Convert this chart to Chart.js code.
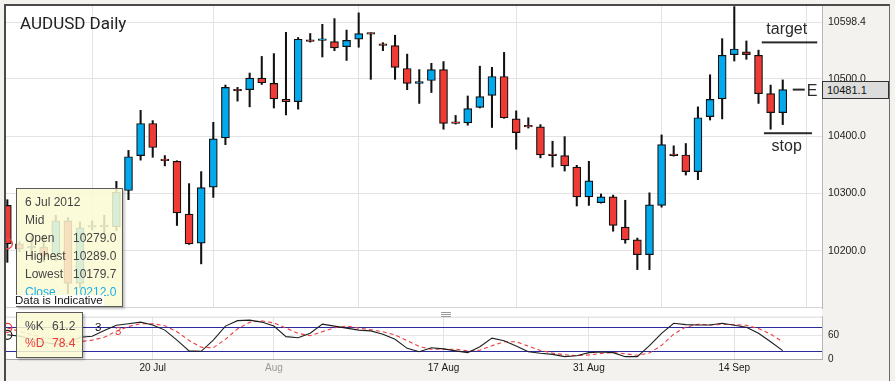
<!DOCTYPE html>
<html><head><meta charset="utf-8">
<script src="https://cdn.jsdelivr.net/npm/chart.js@4.4.1/dist/chart.umd.min.js"></script>
<style>
html,body{margin:0;padding:0;}
body{width:895px;height:381px;overflow:hidden;background:#f4f2ee;font-family:"Liberation Sans",Arial,sans-serif;}
#wrap{position:relative;width:895px;height:381px;}
canvas{position:absolute;left:0;}
#gap{position:absolute;left:6px;top:308px;width:816px;height:9px;background:#fff;}
#frame{position:absolute;left:4px;top:4px;width:886px;height:400px;border-left:2px solid #4a4a4a;border-top:2px solid #4a4a4a;border-right:1px solid #6a6a6a;box-sizing:border-box;pointer-events:none;}
#title{position:absolute;left:20px;top:12.5px;font-family:Roboto,"Liberation Sans",sans-serif;font-size:17px;color:#222;line-height:20px;white-space:nowrap;}
.box{position:absolute;background:rgba(250,250,212,0.86);border:1px solid #5a5a5a;box-shadow:2px 2px 2px rgba(0,0,0,0.22);box-sizing:border-box;font-size:12px;color:#444;}
#tip{left:16px;top:188px;width:107px;height:119px;padding-top:4px;}
#tip .row{height:18px;line-height:18px;position:relative;padding-left:8px;white-space:nowrap;}
#tip .val{position:absolute;left:56px;top:0;}
#tip .cl{color:#1aaeea;}
#indic{position:absolute;left:13px;top:295px;width:91px;height:11px;background:#fff;font-size:11.5px;line-height:11px;color:#111;padding-left:2px;box-sizing:border-box;white-space:nowrap;}
#stip{left:16px;top:312px;width:67px;height:46px;padding-top:5px;}
#stip .row{height:17px;line-height:17px;position:relative;padding-left:8px;white-space:nowrap;}
#stip .val{position:absolute;left:35px;top:0;}
#stip .d{color:#e83a3a;}
#pbox{position:absolute;left:822px;top:81px;width:67px;height:18px;background:#dcdcdc;border:1px solid #333;box-sizing:border-box;font-size:11px;line-height:16px;padding-left:4px;color:#111;}
.hl{position:absolute;left:441px;width:10px;height:1px;background:#9a9a9a;}
.p3{position:absolute;font-size:11.5px;line-height:12px;}
</style></head>
<body>
<div id="wrap">
  <div id="gap"></div>
  <canvas id="main" width="895" height="310" style="top:0;width:895px;height:310px"></canvas>
  <canvas id="stoch" width="895" height="71" style="top:310px;width:895px;height:71px"></canvas>
  <div class="hl" style="top:312px"></div>
  <div class="hl" style="top:314px"></div>
  <div class="hl" style="top:316px"></div>
  <div id="title">AUDUSD Daily</div>
  <div class="p3" style="left:95px;top:321px;color:#111">3</div>
  <div class="p3" style="left:115px;top:325px;color:#e83a3a">3</div>
  <div id="tip" class="box"></div>
  <div id="indic">Data is Indicative</div>
  <div id="stip" class="box"></div>
  <div id="pbox"></div>
  <div id="frame"></div>
</div>
<script>
// ---------- data ----------
const dates = ['2012-07-06','2012-07-08','2012-07-09','2012-07-10','2012-07-11','2012-07-12','2012-07-13','2012-07-15','2012-07-16','2012-07-17','2012-07-18','2012-07-19','2012-07-20','2012-07-22','2012-07-23','2012-07-24','2012-07-25','2012-07-26','2012-07-27','2012-07-29','2012-07-30','2012-07-31','2012-08-01','2012-08-02','2012-08-03','2012-08-05','2012-08-06','2012-08-07','2012-08-08','2012-08-09','2012-08-10','2012-08-12','2012-08-13','2012-08-14','2012-08-15','2012-08-16','2012-08-17','2012-08-19','2012-08-20','2012-08-21','2012-08-22','2012-08-23','2012-08-24','2012-08-26','2012-08-27','2012-08-28','2012-08-29','2012-08-30','2012-08-31','2012-09-02','2012-09-03','2012-09-04','2012-09-05','2012-09-06','2012-09-07','2012-09-09','2012-09-10','2012-09-11','2012-09-12','2012-09-13','2012-09-14','2012-09-16','2012-09-17','2012-09-18','2012-09-19'];
const open = [10279,10212,10205,10206,10192,10252,10143,10241,10244,10242,
 10305,10366,10422,10358,10356,10264,10213,10311,10397,10480,
 10481,10501,10492,10464,10460,10567,10567,10565,10556,10569,
 10579,10560,10558,10518,10492,10497,10516,10423,10423,10450,
 10471,10504,10430,10417,10416,10367,10366,10346,10294,10284,
 10294,10241,10219,10193,10279,10367,10367,10338,10434,10465,
 10542,10547,10541,10474,10441];
const high = [10289,10216,10225,10226,10262,10258,10250,10252,10262,10321,
 10375,10445,10427,10366,10357,10317,10338,10424,10489,10485,
 10510,10539,10544,10581,10572,10579,10595,10605,10585,10615,
 10580,10563,10576,10543,10516,10527,10530,10436,10470,10522,
 10520,10546,10444,10432,10420,10391,10399,10349,10356,10299,
 10297,10288,10222,10301,10402,10383,10387,10451,10507,10570,
 10626,10566,10550,10489,10498];
const low = [10179.7,10198,10186,10181,10182,10125,10135,10236,10230,10235,
 10289,10358,10363,10348,10244,10211,10177,10293,10385,10461,
 10451,10490,10449,10437,10447,10564,10538,10549,10532,10555,
 10499,10549,10499,10481,10457,10476,10412,10421,10419,10449,
 10415,10431,10377,10414,10362,10346,10339,10278,10279,10283,
 10234,10213,10167,10167,10276,10365,10332,10324,10428,10430,
 10531,10534,10457,10412,10420];
const close = [10212,10203,10207,10190,10252,10143,10240,10244,10242,10302,
 10364,10422,10380,10357,10266,10212,10310,10395,10485,10479,
 10501,10493,10465,10460,10569,10565,10568,10554,10567,10579,
 10578,10558,10520,10492,10495,10516,10422,10422,10448,10469,
 10504,10432,10406,10416,10367,10366,10348,10294,10322,10294,
 10244,10219,10193,10280,10385,10366,10338,10432,10464,10541,
 10552,10542,10474,10441,10481.1];
const stochK = [61.2,58,50,42,38,40,55,57.5,72,85,
 89,93,86,73,48,21,20,48,83,96.6,
 98,93,83,56.6,54,65,88,83,78,73,
 71,62.4,50,27.4,19,29,26,21,16.6,31.6,
 53,46.5,33,19,15,12.4,6.6,9,16.6,18.3,
 16.6,6.6,6.6,34,65,90,86.6,85.8,85.8,90,
 85,80,65,44,21.6];
const stochD = [78.4,70,62,54,48,44,44,48,55,70,
 82,89,89,84,69,47,30,29,50,76,
 92.5,96,91,78,65,59,69,79,83,78,
 74,69,61,46.6,32,25,25,25.3,21,23,
 34,44,44,33,22,15.5,11.3,9.3,10.7,14.6,
 17.2,13.8,10,15.7,35,63,80.5,87.4,86,87,
 87,85,76.7,63,43.5];
const priceTicks = [10200,10300,10400,10500,10598.4];
const stochTicks = [0,60];
const stochBands = [20,80];
const xTickDates = ['2012-07-20','2012-08-01','2012-08-17','2012-08-31','2012-09-14'];
const xTickLabels = ['20 Jul','Aug','17 Aug','31 Aug','14 Sep'];
const levels = [{name:'target',price:10563.5},{name:'stop',price:10405},{name:'E',price:10481.1}];
const hoverIndex = 0;

// ---------- setup ----------
Chart.defaults.font.family = "'Liberation Sans', Arial, sans-serif";
const UP = '#02a9ec', DOWN = '#ee3b36';
const X_MIN = -0.11, X_MAX = 67.24;
const xTickIdx = xTickDates.map(d => dates.indexOf(d));
const last = dates.length - 1;

const whiteArea = {id:'whiteArea', beforeDraw(c){
  const {ctx, chartArea:a} = c;
  ctx.save(); ctx.fillStyle = '#fff';
  ctx.fillRect(a.left, a.top, a.right - a.left, a.bottom - a.top);
  ctx.restore();
}};

const mainDeco = {id:'mainDeco', afterDatasetsDraw(c){
  const {ctx, chartArea:a, scales:{x, y}} = c;
  ctx.save();
  ctx.fillStyle = '#d6d6d6';
  ctx.fillRect(a.left, a.bottom - 1, a.right - a.left, 1);
  ctx.save();
  ctx.beginPath(); ctx.rect(a.left, a.top, a.right - a.left, a.bottom - a.top); ctx.clip();
  ctx.beginPath();
  ctx.arc(x.getPixelForValue(hoverIndex), y.getPixelForValue(close[hoverIndex]), 5, 0, Math.PI * 2);
  ctx.strokeStyle = '#e84a4a'; ctx.lineWidth = 1.4; ctx.stroke();
  ctx.restore();
  const xl = x.getPixelForValue(last);
  ctx.fillStyle = '#2a2a2a';
  ctx.font = "16px 'Liberation Sans', Arial, sans-serif";
  ctx.textBaseline = 'alphabetic';
  levels.forEach(l => {
    const py = y.getPixelForValue(l.price);
    if (l.name === 'target') {
      ctx.fillRect(xl - 21, py - 1, 55.5, 2);
      ctx.textAlign = 'center'; ctx.fillText(l.name, xl + 4, py - 8.3);
    } else if (l.name === 'stop') {
      ctx.fillRect(xl - 18.8, py - 1, 48, 2);
      ctx.textAlign = 'center'; ctx.fillText(l.name, xl + 4, py + 17.5);
    } else {
      ctx.fillRect(xl + 10, py - 1, 12, 2);
      ctx.textAlign = 'left'; ctx.fillText(l.name, xl + 24, py + 6.8);
    }
  });
  ctx.restore();
}};

const stochDeco = {id:'stochDeco', beforeDatasetsDraw(c){
  const {ctx, chartArea:a, scales:{y}} = c;
  ctx.save();
  ctx.fillStyle = '#d9d9d9';
  ctx.fillRect(a.left, a.top, a.right - a.left, 1);
  ctx.strokeStyle = '#2b2b9e'; ctx.lineWidth = 1;
  stochBands.forEach(v => {
    const py = Math.round(y.getPixelForValue(v)) + 0.5;
    ctx.beginPath(); ctx.moveTo(a.left, py); ctx.lineTo(a.right, py); ctx.stroke();
  });
  ctx.restore();
}};

const setTicks = arr => s => { s.ticks = arr.map(v => ({value: v})); };
const noPad = s => { s.paddingTop = 0; s.paddingBottom = 0; s.paddingLeft = 0; s.paddingRight = 0; };

const mainChart = new Chart(document.getElementById('main'), {
  type: 'bar',
  data: { datasets: [
    { label: 'body',
      data: dates.map((d, i) => ({x: i, y: [Math.min(open[i], close[i]), Math.max(open[i], close[i])]})),
      backgroundColor: dates.map((d, i) => close[i] >= open[i] ? UP : DOWN),
      borderColor: '#111', borderWidth: 1.2, borderSkipped: false,
      barThickness: 8, minBarLength: 1.6, grouped: false, order: 0, clip: 0 },
    { label: 'wick',
      data: dates.map((d, i) => ({x: i, y: [low[i], high[i]]})),
      backgroundColor: '#111', borderWidth: 0,
      barThickness: 1.4, grouped: false, order: 1, clip: 0 }
  ]},
  options: {
    responsive: false, animation: false, devicePixelRatio: 1, events: [],
    layout: {padding: {left: 6, top: 6, right: 0, bottom: 2}},
    plugins: {legend: {display: false}, tooltip: {enabled: false}},
    scales: {
      x: { type: 'linear', min: X_MIN, max: X_MAX, offset: false,
        afterBuildTicks: setTicks(xTickIdx),
        ticks: {display: false},
        grid: {color: '#e3e3e3', drawTicks: false},
        border: {display: false},
        afterFit: s => { s.height = 0; noPad(s); } },
      y: { position: 'right', min: 10100, max: 10627,
        afterBuildTicks: setTicks(priceTicks),
        ticks: {callback: v => Number(v).toFixed(1), font: {size: 10.5}, color: '#222', padding: 6},
        grid: {color: '#e3e3e3', drawTicks: false},
        border: {display: true, color: '#b8b8b8'},
        afterFit: s => { s.width = 73; noPad(s); } }
    }
  },
  plugins: [whiteArea, mainDeco]
});

const ring = c => c.dataIndex === hoverIndex ? 4.5 : 0;
new Chart(document.getElementById('stoch'), {
  type: 'line',
  data: { datasets: [
    { data: stochK.map((v, i) => ({x: i, y: v})), borderColor: '#1e1e1e', borderWidth: 1.1,
      pointRadius: ring, pointBorderColor: '#1e1e1e', pointBackgroundColor: 'rgba(0,0,0,0)', pointBorderWidth: 1.2,
      tension: 0, clip: 0, order: 0 },
    { data: stochD.map((v, i) => ({x: i, y: v})), borderColor: '#ef3b3b', borderWidth: 1.1, borderDash: [4, 3],
      pointRadius: ring, pointBorderColor: '#ef3b3b', pointBackgroundColor: 'rgba(0,0,0,0)', pointBorderWidth: 1.2,
      tension: 0, clip: 0, order: 1 }
  ]},
  options: {
    responsive: false, animation: false, devicePixelRatio: 1, events: [],
    layout: {padding: {left: 6, top: 6.7, right: 0, bottom: 0}},
    plugins: {legend: {display: false}, tooltip: {enabled: false}},
    scales: {
      x: { type: 'linear', min: X_MIN, max: X_MAX, offset: false,
        afterBuildTicks: setTicks(xTickIdx),
        ticks: {
          callback: v => xTickLabels[xTickIdx.indexOf(Math.round(v))],
          color: c => { const t = xTickLabels[c.index] || ''; return /^\d/.test(t) ? '#1a1a1a' : '#9a9a9a'; },
          font: {size: 10}, padding: 3, maxRotation: 0, autoSkip: false },
        grid: {color: '#e3e3e3', drawTicks: false},
        border: {display: true, color: '#a8a8a8'},
        afterFit: s => { s.height = 21.7; noPad(s); } },
      y: { position: 'right', min: 0, max: 106.5,
        afterBuildTicks: setTicks(stochTicks),
        ticks: {callback: v => String(v), font: {size: 10}, color: '#222', padding: 6},
        grid: {color: '#e6e6e6', drawTicks: false},
        border: {display: true, color: '#b8b8b8'},
        afterFit: s => { s.width = 73; noPad(s); } }
    }
  },
  plugins: [whiteArea, stochDeco]
});

// ---------- overlays (text from data) ----------
const MONTHS = ['Jan','Feb','Mar','Apr','May','Jun','Jul','Aug','Sep','Oct','Nov','Dec'];
const dp = dates[hoverIndex].split('-');
const dateTxt = parseInt(dp[2], 10) + ' ' + MONTHS[parseInt(dp[1], 10) - 1] + ' ' + dp[0];
const row = (k, v, cls) => '<div class="row' + (cls ? ' ' + cls : '') + '"><span>' + k + '</span>' + (v !== undefined ? '<span class="val">' + v + '</span>' : '') + '</div>';
document.getElementById('tip').innerHTML =
  row(dateTxt) + row('Mid') +
  row('Open', open[hoverIndex].toFixed(1)) +
  row('Highest', high[hoverIndex].toFixed(1)) +
  row('Lowest', low[hoverIndex].toFixed(1)) +
  row('Close', close[hoverIndex].toFixed(1), 'cl');
document.getElementById('stip').innerHTML =
  row('%K', stochK[hoverIndex].toFixed(1)) + row('%D', stochD[hoverIndex].toFixed(1), 'd');
const pbox = document.getElementById('pbox');
pbox.textContent = close[last].toFixed(1);
pbox.style.top = (mainChart.scales.y.getPixelForValue(close[last]) - 8.8) + 'px';
</script>
</body></html>
